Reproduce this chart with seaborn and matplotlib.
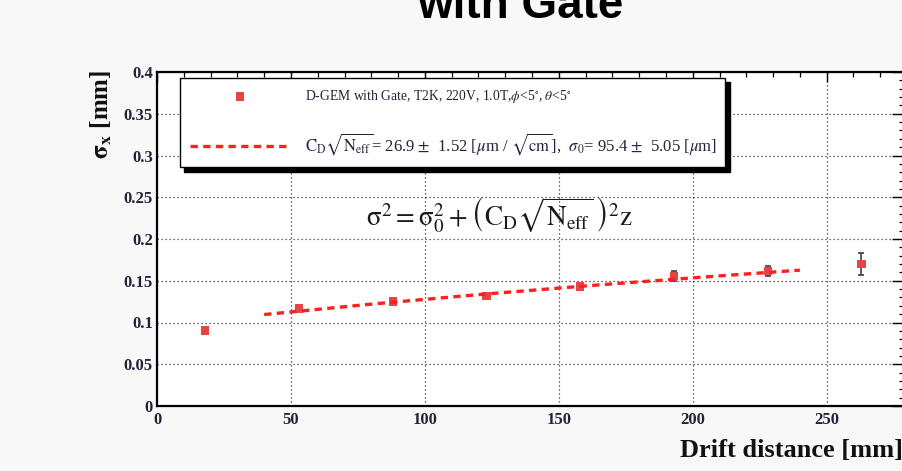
import matplotlib
matplotlib.use("Agg")
import matplotlib.pyplot as plt
import seaborn as sns
import numpy as np
import pandas as pd
from matplotlib.ticker import MultipleLocator

# ---- data ----
drift_mm = [18, 53, 88, 123, 158, 193, 228, 263]
sigma_mm = [0.0905, 0.1167, 0.125, 0.132, 0.143, 0.156, 0.162, 0.170]
sigma_err = [0.003, 0.003, 0.003, 0.003, 0.004, 0.006, 0.006, 0.013]

fit_x = [40, 80, 120, 160, 200, 240]
fit_y = [0.1095, 0.1220, 0.1334, 0.1438, 0.1535, 0.1627]

x_ticks = [0, 50, 100, 150, 200, 250]
y_ticks = [0, 0.05, 0.1, 0.15, 0.2, 0.25, 0.3, 0.35, 0.4]
y_tick_labels = ["0", "0.05", "0.1", "0.15", "0.2", "0.25", "0.3", "0.35", "0.4"]

legend_pts = r"D-GEM with Gate, T2K, 220V, 1.0T,$\phi$<5$^{\circ}$, $\theta$<5$^{\circ}$"
legend_fit = (r"$\mathrm{C_D}\sqrt{\mathrm{N_{eff}}}$= 26.9 $\pm$  1.52 [$\mu$m / $\sqrt{\mathrm{cm}}$],  "
              r"$\sigma_0$= 95.4 $\pm$  5.05 [$\mu$m]")
formula = r"$\mathrm{\sigma}^2 = \mathrm{\sigma}_0^2 + \left(\mathrm{C_D}\sqrt{\mathrm{N_{eff}}}\,\right)^2 \mathrm{z}$"

pts = pd.DataFrame({"x": drift_mm, "y": sigma_mm, "e": sigma_err})
fit = pd.DataFrame({"x": fit_x, "y": fit_y})

sns.set_theme(style="white")
plt.rcParams["font.family"] = ["Liberation Serif", "DejaVu Serif"]
plt.rcParams["mathtext.fontset"] = "stix"

W, H = 902, 471
fig = plt.figure(figsize=(W / 100, H / 100), dpi=100, facecolor="#f8f8f8")
L, R, B, T = 157, 907, 406, 72
ax = fig.add_axes([L / W, 1 - B / H, (R - L) / W, (B - T) / H])
ax.set_facecolor("white")

ax.errorbar(pts["x"], pts["y"], yerr=pts["e"], fmt="none", ecolor="#404040",
            elinewidth=1.2, capsize=2.5, capthick=1.2, zorder=3)
sns.scatterplot(data=pts, x="x", y="y", marker="s", s=36, color="#e64545",
                edgecolor="none", ax=ax, zorder=4, label=legend_pts)
sns.lineplot(data=fit, x="x", y="y", color="#ff1f1f", lw=2.4, ax=ax, zorder=5,
             label=legend_fit)
ax.lines[-1].set_dashes([2.2, 1.6])

ax.set_xlim(0, 280)
ax.set_ylim(0, 0.4)
ax.set_xticks(x_ticks)
ax.set_xticklabels([str(v) for v in x_ticks])
ax.set_yticks(y_ticks)
ax.set_yticklabels(y_tick_labels)
ax.xaxis.set_minor_locator(MultipleLocator(10))
ax.yaxis.set_minor_locator(MultipleLocator(0.01))
ax.set_xlabel("")
ax.set_ylabel("")

for s in ax.spines.values():
    s.set_linewidth(1.6)
    s.set_color("black")
ax.tick_params(axis="both", which="both", direction="in", top=True, right=True,
               colors="black", labelcolor="#22223a", labelsize=12)
ax.tick_params(axis="x", which="major", length=7, width=1.0, pad=4)
ax.tick_params(axis="x", which="minor", length=3.6, width=0.9)
ax.tick_params(axis="y", which="major", length=11, width=1.0, pad=3)
ax.tick_params(axis="y", which="minor", length=5.5, width=0.9)
for lab in ax.get_xticklabels() + ax.get_yticklabels():
    lab.set_fontweight("bold")

ax.grid(True, which="major", color="#333333", linestyle=(0, (1, 2.2)), linewidth=0.9)
ax.set_axisbelow(True)

leg = ax.legend(loc="upper left", bbox_to_anchor=(0.0307, 0.5, 0.727, 0.482),
                mode="expand", borderaxespad=0, fontsize=9.8, frameon=True,
                fancybox=False, edgecolor="black", facecolor="white", framealpha=1,
                shadow={"color": "black", "ox": 3.2, "oy": -3.2, "alpha": 1},
                handlelength=7.3, handletextpad=1.1, labelspacing=1.9,
                borderpad=0.75, markerscale=1.0)
leg.get_frame().set_linewidth(1.0)
leg.set_zorder(10)
texts = leg.get_texts()
for t in texts:
    t.set_color("#22223a")
texts[1].set_fontsize(12)

ax.text(0.457, 0.572, formula, transform=ax.transAxes, ha="center", va="center",
        fontsize=19.5, color="#1a1a1a", zorder=6)

fig.text(101 / W, 1 - 70 / H, r"$\mathbf{\sigma_x}$ [mm]", rotation=90, ha="center",
         va="top", fontsize=18, fontweight="bold", color="#111111")
fig.text(903 / W, 1 - 457 / H, "Drift distance [mm]", ha="right", va="baseline",
         fontsize=19, fontweight="bold", color="#111111")
fig.text(520 / W, 1 - 18 / H, "with Gate", ha="center", va="baseline",
         fontsize=33, fontweight="bold", color="black",
         family=["Liberation Sans", "DejaVu Sans"])

fig.savefig("out.png", dpi=100, facecolor=fig.get_facecolor())
